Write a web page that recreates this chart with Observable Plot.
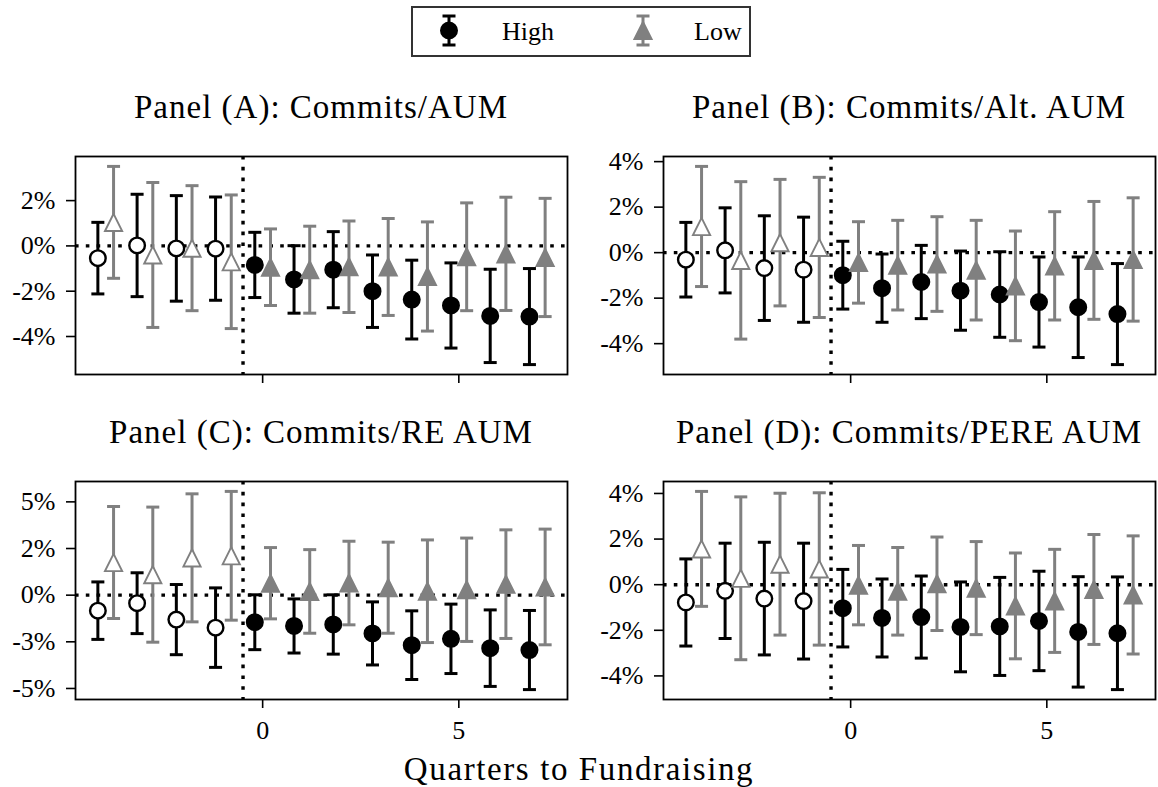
<!DOCTYPE html>
<html>
<head>
<meta charset="utf-8">
<script src="https://cdn.jsdelivr.net/npm/d3@7"></script>
<script src="https://cdn.jsdelivr.net/npm/@observablehq/plot@0.6"></script>
<style>
html, body { margin: 0; padding: 0; background: #fff; }
#page { position: relative; width: 1158px; height: 787px; overflow: hidden; font-family: "Liberation Serif", "DejaVu Serif", serif; color: #000; background: #fff; }
.panel { position: absolute; }
.panel svg text { font-family: "Liberation Serif", "DejaVu Serif", serif !important; }
.title { position: absolute; font-size: 33px; letter-spacing: 1px; line-height: 1; white-space: nowrap; transform: translate(-50%, -50%); }
#xtitle { font-size: 33px; letter-spacing: 1.6px; }
#legend { position: absolute; left: 411px; top: 6px; width: 336px; height: 47px; border: 2px solid #333; background: #fff; }
#legend svg { display: block; }
#legend text { font-family: "Liberation Serif", "DejaVu Serif", serif; }
</style>
</head>
<body>
<div id="page"></div>
<script>
// ---------- data ----------
const quarters = [-4, -3, -2, -1, 0, 1, 2, 3, 4, 5, 6, 7];
const seriesNames = ["High", "Low"];
const panelTitles = [
  "Panel (A): Commits/AUM",
  "Panel (B): Commits/Alt. AUM",
  "Panel (C): Commits/RE AUM",
  "Panel (D): Commits/PERE AUM"
];
const xAxisTitle = "Quarters to Fundraising";
const xTicks = [0, 5];
const eventBoundary = -0.5;

// coefficients (%) and 95% CI half-widths (%)
const aHighCoef = [-0.54, 0.02, -0.11, -0.12, -0.84, -1.48, -1.05, -2.00, -2.37, -2.63, -3.09, -3.12];
const aHighCI   = [1.58, 2.26, 2.33, 2.28, 1.44, 1.49, 1.68, 1.60, 1.74, 1.88, 2.06, 2.12];
const aLowCoef  = [1.04, -0.40, -0.10, -0.70, -0.94, -1.05, -0.92, -0.93, -1.35, -0.48, -0.35, -0.51];
const aLowCI    = [2.47, 3.20, 2.76, 2.95, 1.69, 1.92, 2.02, 2.14, 2.41, 2.38, 2.50, 2.61];

const bHighCoef = [-0.31, 0.10, -0.68, -0.75, -0.99, -1.56, -1.29, -1.67, -1.84, -2.17, -2.40, -2.70];
const bHighCI   = [1.64, 1.87, 2.30, 2.31, 1.49, 1.50, 1.61, 1.74, 1.88, 1.98, 2.21, 2.22];
const bLowCoef  = [1.15, -0.34, 0.44, 0.23, -0.43, -0.55, -0.50, -0.77, -1.46, -0.58, -0.34, -0.30];
const bLowCI    = [2.64, 3.46, 2.78, 3.08, 1.79, 1.97, 2.08, 2.19, 2.41, 2.38, 2.59, 2.71];

const cHighCoef = [-0.83, -0.43, -1.31, -1.74, -1.45, -1.65, -1.57, -2.05, -2.68, -2.34, -2.84, -2.94];
const cHighCI   = [1.54, 1.63, 1.88, 2.13, 1.47, 1.45, 1.59, 1.69, 1.84, 1.86, 2.05, 2.12];
const cLowCoef  = [1.75, 1.10, 2.00, 2.11, 0.64, 0.20, 0.65, 0.40, 0.21, 0.29, 0.59, 0.44];
const cLowCI    = [3.00, 3.62, 3.43, 3.45, 1.91, 2.24, 2.24, 2.44, 2.75, 2.77, 2.91, 3.10];

const dHighCoef = [-0.78, -0.27, -0.61, -0.72, -1.03, -1.46, -1.42, -1.85, -1.83, -1.59, -2.07, -2.13];
const dHighCI   = [1.91, 2.09, 2.47, 2.54, 1.70, 1.71, 1.80, 1.97, 2.15, 2.18, 2.42, 2.47];
const dLowCoef  = [1.57, 0.28, 0.90, 0.69, -0.02, -0.29, 0.04, -0.15, -0.93, -0.71, -0.21, -0.45];
const dLowCI    = [2.52, 3.57, 3.11, 3.34, 1.74, 1.92, 2.05, 2.04, 2.32, 2.26, 2.41, 2.59];

// y tick values and labels
const yTicksA = [2, 0, -2, -4];
const yTickLabelsA = ["2%", "0%", "-2%", "-4%"];
const yTicksB = [4, 2, 0, -2, -4];
const yTickLabelsB = ["4%", "2%", "0%", "-2%", "-4%"];
const yTicksC = [5, 2.5, 0, -2.5, -5];
const yTickLabelsC = ["5%", "2%", "0%", "-3%", "-5%"];
const yTicksD = [4, 2, 0, -2, -4];
const yTickLabelsD = ["4%", "2%", "0%", "-2%", "-4%"];

// ---------- styling ----------
const colors = {High: "black", Low: "#808080"};
const dodge = {High: -0.2, Low: 0.2};
const FONT = '"Liberation Serif", "DejaVu Serif", serif';

const capSymbol = {
  draw(ctx, size) {
    const h = Math.sqrt(size / Math.PI);
    ctx.moveTo(-h, 0); ctx.lineTo(h, 0);
  }
};
const triSymbol = {
  draw(ctx, size) {
    const h = Math.sqrt(size / Math.PI);
    ctx.moveTo(0, -h); ctx.lineTo(-h, h); ctx.lineTo(h, h); ctx.closePath();
  }
};

const panels = [
  {title: panelTitles[0], high: [aHighCoef, aHighCI], low: [aLowCoef, aLowCI], ticks: yTicksA, labels: yTickLabelsA, left: 0, top: 140, xLabels: false},
  {title: panelTitles[1], high: [bHighCoef, bHighCI], low: [bLowCoef, bLowCI], ticks: yTicksB, labels: yTickLabelsB, left: 588, top: 140, xLabels: false},
  {title: panelTitles[2], high: [cHighCoef, cHighCI], low: [cLowCoef, cLowCI], ticks: yTicksC, labels: yTickLabelsC, left: 0, top: 465, xLabels: true},
  {title: panelTitles[3], high: [dHighCoef, dHighCI], low: [dLowCoef, dLowCI], ticks: yTicksD, labels: yTickLabelsD, left: 588, top: 465, xLabels: true}
];

const W = 570, H = 290, ML = 75, MR = 3, MT = 16, MB = 56;
const page = document.getElementById("page");

function rowsFor(series, [coef, ci]) {
  return quarters.map((q, i) => ({
    q, series,
    x: q + dodge[series],
    coef: coef[i],
    lo: coef[i] - ci[i],
    hi: coef[i] + ci[i],
    pre: q < 0
  }));
}

function pad(ext) {
  const r = ext[1] - ext[0];
  return [ext[0] - 0.05 * r, ext[1] + 0.05 * r];
}

for (const p of panels) {
  const rows = [...rowsFor("High", p.high), ...rowsFor("Low", p.low)];
  const xDomain = pad(d3.extent(rows, d => d.x));
  const yDomain = pad([d3.min(rows, d => d.lo), d3.max(rows, d => d.hi)]);
  const labelMap = new Map(p.ticks.map((t, i) => [t, p.labels[i]]));

  const marks = [
    Plot.ruleY([0], {stroke: "black", strokeWidth: 3.4, strokeDasharray: "3.6,7.2"}),
    Plot.ruleX([eventBoundary], {stroke: "black", strokeWidth: 3.4, strokeDasharray: "3.6,7.2"})
  ];
  for (const s of seriesNames) {
    const data = rows.filter(d => d.series === s);
    const col = colors[s];
    marks.push(
      Plot.ruleX(data, {x: "x", y1: "lo", y2: "hi", stroke: col, strokeWidth: 3}),
      Plot.dot(data, {x: "x", y: "lo", symbol: capSymbol, r: 6.5, stroke: col, strokeWidth: 3, fill: "none"}),
      Plot.dot(data, {x: "x", y: "hi", symbol: capSymbol, r: 6.5, stroke: col, strokeWidth: 3, fill: "none"})
    );
    const pre = data.filter(d => d.pre), post = data.filter(d => !d.pre);
    if (s === "High") {
      marks.push(
        Plot.dot(pre, {x: "x", y: "coef", r: 7.8, fill: "white", stroke: col, strokeWidth: 2.4}),
        Plot.dot(post, {x: "x", y: "coef", r: 7.8, fill: col, stroke: col, strokeWidth: 2.4})
      );
    } else {
      marks.push(
        Plot.dot(pre, {x: "x", y: "coef", symbol: triSymbol, r: 8.6, fill: "white", stroke: col, strokeWidth: 1.9}),
        Plot.dot(post, {x: "x", y: "coef", symbol: triSymbol, r: 8.6, fill: col, stroke: col, strokeWidth: 1.9})
      );
    }
  }
  marks.push(
    Plot.frame({stroke: "black", strokeWidth: 1.8}),
    Plot.axisY(p.ticks, {tickSize: 9, tickPadding: 11, strokeWidth: 1.6, fontSize: 26, fontFamily: FONT, tickFormat: d => labelMap.get(d)}),
    Plot.axisX(xTicks, {tickSize: 9, tickPadding: 12, strokeWidth: 1.6, fontSize: 26, fontFamily: FONT, tickFormat: d => p.xLabels ? String(d) : ""})
  );

  const chart = Plot.plot({
    width: W, height: H,
    marginLeft: ML, marginRight: MR, marginTop: MT, marginBottom: MB,
    style: {fontFamily: FONT, fontSize: "26px", background: "transparent", color: "black", overflow: "visible"},
    x: {domain: xDomain, label: null},
    y: {domain: yDomain, label: null},
    marks
  });
  const wrap = document.createElement("div");
  wrap.className = "panel";
  wrap.style.left = p.left + "px";
  wrap.style.top = p.top + "px";
  wrap.appendChild(chart);
  page.appendChild(wrap);

  const t = document.createElement("div");
  t.className = "title";
  t.textContent = p.title;
  t.style.left = (p.left + ML + (W - ML - MR) / 2) + "px";
  t.style.top = (p.top - 33) + "px";
  page.appendChild(t);
}

// x axis title
const xt = document.createElement("div");
xt.className = "title";
xt.id = "xtitle";
xt.textContent = xAxisTitle;
xt.style.left = "579px";
xt.style.top = "769px";
page.appendChild(xt);

// legend
const lg = document.createElement("div");
lg.id = "legend";
const ns = "http://www.w3.org/2000/svg";
const lsvg = document.createElementNS(ns, "svg");
lsvg.setAttribute("width", 336); lsvg.setAttribute("height", 47);
const legendItems = [
  {name: seriesNames[0], hx: 36, tx: 89},
  {name: seriesNames[1], hx: 230, tx: 281}
];
for (const it of legendItems) {
  const col = colors[it.name];
  const g = document.createElementNS(ns, "g");
  const mk = (tag, attrs) => { const e = document.createElementNS(ns, tag); for (const k in attrs) e.setAttribute(k, attrs[k]); g.appendChild(e); return e; };
  mk("line", {x1: it.hx, x2: it.hx, y1: 8, y2: 37, stroke: col, "stroke-width": 3});
  mk("line", {x1: it.hx - 6.5, x2: it.hx + 6.5, y1: 8, y2: 8, stroke: col, "stroke-width": 3});
  mk("line", {x1: it.hx - 6.5, x2: it.hx + 6.5, y1: 37, y2: 37, stroke: col, "stroke-width": 3});
  if (it.name === "High") {
    mk("circle", {cx: it.hx, cy: 22.5, r: 7.8, fill: col, stroke: col, "stroke-width": 2.4});
  } else {
    const h = 8.6, cy = 22.5;
    mk("path", {d: `M${it.hx},${cy - h}L${it.hx - h},${cy + h}L${it.hx + h},${cy + h}Z`, fill: col, stroke: col, "stroke-width": 1.9});
  }
  const tx = mk("text", {x: it.tx, y: 32, "font-size": 26, fill: "black"});
  tx.textContent = it.name;
  lsvg.appendChild(g);
}
lg.appendChild(lsvg);
page.appendChild(lg);
</script>
</body>
</html>
